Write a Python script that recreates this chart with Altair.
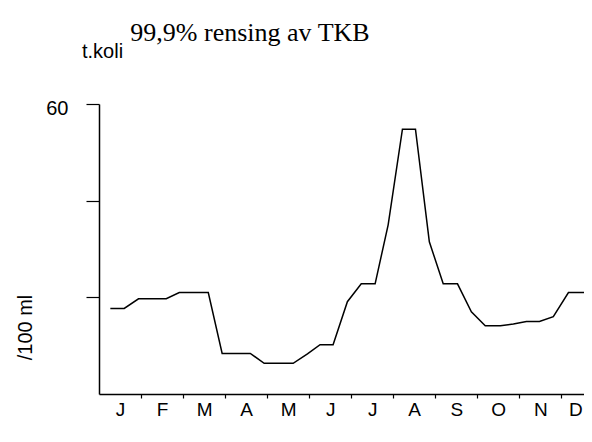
import altair as alt
import pandas as pd

title_text = "99,9% rensing av TKB"
unit_top = "t.koli"
unit_axis = "/100 ml"
months = ["J", "F", "M", "A", "M", "J", "J", "A", "S", "O", "N", "D"]

# position in months (decimal) and value (t.koli / 100 ml)
month_pos = [0.27, 0.60, 0.94, 1.27, 1.60, 1.91, 2.24, 2.60, 2.93, 3.27, 3.60, 3.93,
             4.27, 4.62, 4.96, 5.26, 5.57, 5.91, 6.24, 6.57, 6.88, 7.22, 7.53, 7.86,
             8.19, 8.53, 8.86, 9.19, 9.55, 9.86, 10.17, 10.48, 10.81, 11.17, 11.50, 11.83]
values = [17.7, 17.7, 19.7, 19.7, 19.7, 21.0, 21.0, 21.0, 8.4, 8.4, 8.4, 6.35,
          6.35, 6.35, 8.3, 10.2, 10.2, 19.1, 22.8, 22.8, 35.0, 54.8, 54.8, 31.5,
          22.8, 22.8, 17.0, 14.1, 14.1, 14.5, 15.0, 15.0, 16.0, 21.0, 21.0, 21.0]
y_ticks = [20, 40, 60]

df = pd.DataFrame({"m": month_pos, "v": values})

x_vals = []
for i in range(12):
    x_vals.append(i + 0.5)
    if i < 11:
        x_vals.append(i + 1)

label_expr = ("datum.value % 1 == 0 ? '' : " + str(months) + "[floor(datum.value)]")

line = alt.Chart(df).mark_line(color="black", strokeWidth=1.5, clip=True).encode(
    x=alt.X("m:Q", scale=alt.Scale(domain=[0, 11.54], nice=False, zero=False),
            axis=alt.Axis(values=x_vals, labelExpr=label_expr, title=None, grid=False,
                          tickSize=4, tickColor="black",
                          tickOpacity={"condition": {"test": "datum.value % 1 != 0", "value": 0}, "value": 1},
                          labelAlign={"condition": {"test": "datum.value > 11", "value": "right"}, "value": "center"},
                          labelPadding=2, labelFontSize=19, labelFont="Liberation Sans",
                          labelColor="black", labelOverlap=False, labelFlush=False,
                          labelBound=False, domainColor="black", domainWidth=1.5,
                          tickWidth=1.2)),
    y=alt.Y("v:Q", scale=alt.Scale(domain=[0, 60], nice=False),
            axis=alt.Axis(values=y_ticks, labelExpr="datum.value == 60 ? '60' : ''",
                          title=unit_axis, titleFont="Liberation Sans", titleFontSize=20,
                          titleFontWeight="normal", titleColor="black",
                          titleX=-74, titleY=223, titleAngle=270, titleBaseline="middle",
                          titleAlign="center",
                          grid=False, tickSize=13, tickColor="black", tickWidth=1.2,
                          labelPadding=18, labelOffset=4, labelFontSize=20,
                          labelFont="Liberation Sans", labelColor="black",
                          domainColor="black", domainWidth=1.5)),
)

unit_df = pd.DataFrame({"t": [unit_top]})
unit_text = alt.Chart(unit_df).mark_text(
    align="left", baseline="middle", fontSize=20, font="Liberation Sans", color="black"
).encode(text="t:N", x=alt.value(-17), y=alt.value(-52))

title_df = pd.DataFrame({"t": [title_text]})
title_mark = alt.Chart(title_df).mark_text(
    align="center", baseline="alphabetic", fontSize=26, font="Liberation Serif", color="black"
).encode(text="t:N", x=alt.value(151), y=alt.value(-63))

chart = alt.layer(line, unit_text, title_mark).properties(
    width=485, height=290,
    autosize=alt.AutoSizeParams(type="none"),
    padding={"left": 91, "top": 96, "right": 0, "bottom": 34},
).configure(background="white").configure_view(strokeOpacity=0)

chart.save("out.html", embed_options={"renderer": "svg", "actions": False})
